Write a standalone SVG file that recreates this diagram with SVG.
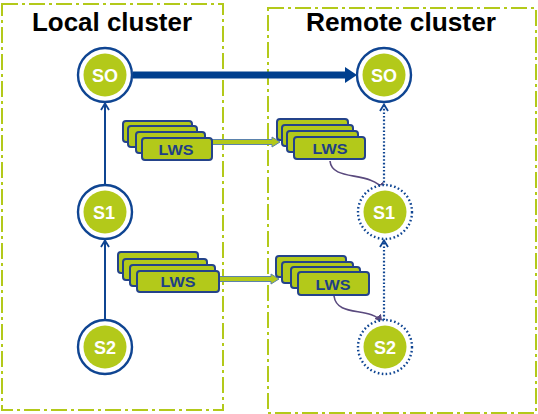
<svg xmlns="http://www.w3.org/2000/svg" width="538" height="414" viewBox="0 0 538 414">
<style>
.cl{fill:none;stroke:#b3c91a;stroke-width:2;stroke-dasharray:16 4 3 4}
.title{font-family:"Liberation Sans",Arial,sans-serif;font-weight:bold;font-size:25px;fill:#000}
.ring{fill:#fff;stroke:#0f4592;stroke-width:2.4}
.dring{fill:#fff;stroke:#0f4592;stroke-width:2.4;stroke-dasharray:1.6 2.4}
.core{fill:#b3c91a}
.nt{font-family:"Liberation Sans",Arial,sans-serif;font-weight:bold;font-size:18px;fill:#fff;text-anchor:middle}
.box{fill:#b3c91a;stroke:#24438a;stroke-width:2}
.lt{font-family:"Liberation Sans",Arial,sans-serif;font-weight:bold;font-size:15.5px;fill:#1e3f86;text-anchor:middle}
.sl{fill:none;stroke:#0f4592;stroke-width:2}
.dl{fill:none;stroke:#0f4592;stroke-width:2.2;stroke-dasharray:1.6 2}
.ch{fill:none;stroke:#0f4592;stroke-width:1.8}
.ga{fill:#b3c91a;stroke:#5b82ac;stroke-width:1}
.pc{fill:none;stroke:#5a4a7e;stroke-width:1.6}
</style>
<defs>
<marker id="pa" viewBox="0 0 10 10" refX="9" refY="5" markerWidth="5" markerHeight="5" orient="auto">
<path d="M0,0 L10,5 L0,10 z" fill="#5a4a7e"/>
</marker>
</defs>
<g id="local-cluster">
<rect class="cl" x="2" y="4" width="221" height="406"/>
<text class="title" x="32" y="31" textLength="160" lengthAdjust="spacingAndGlyphs">Local cluster</text>
</g>
<g id="remote-cluster">
<rect class="cl" x="268" y="8" width="268" height="405"/>
<text class="title" x="306" y="31" textLength="190" lengthAdjust="spacingAndGlyphs">Remote cluster</text>
</g>
<g id="connectors">
<line x1="133" y1="75" x2="346" y2="75" stroke="#003f8e" stroke-width="7"/>
<polygon points="345,67 357,75 345,83" fill="#003f8e"/>
<line class="sl" x1="105" y1="185" x2="105" y2="104"/>
<polyline class="ch" points="101,110 105,103.5 109,110"/>
<line class="sl" x1="105" y1="320" x2="105" y2="241"/>
<polyline class="ch" points="101,247 105,240.5 109,247"/>
<line class="dl" x1="384" y1="186" x2="384" y2="105"/>
<polyline class="ch" points="380,111 384,104.5 388,111"/>
<line class="dl" x1="384" y1="320" x2="384" y2="241"/>
<polyline class="ch" points="380,247 384,240.5 388,247"/>
<polygon class="ga" points="212,139.5 272,139.5 272,137 280,142 272,147 272,144.5 212,144.5"/>
<polygon class="ga" points="219,276.5 271,276.5 271,274 279,279 271,284 271,281.5 219,281.5"/>
<path class="pc" d="M330,161 C332,182 370,170 384,190" marker-end="url(#pa)"/>
<path class="pc" d="M334,296 C337,318 370,306 382,322" marker-end="url(#pa)"/>
</g>
<g id="local-s0"><circle class="ring" cx="105" cy="75" r="27"/><circle class="core" cx="105" cy="75" r="21.5"/><text class="nt" x="105" y="81.5">SO</text></g>
<g id="local-s1"><circle class="ring" cx="105" cy="212" r="27"/><circle class="core" cx="105" cy="212" r="21.5"/><text class="nt" x="104" y="219">S1</text></g>
<g id="local-s2"><circle class="ring" cx="105" cy="347" r="27"/><circle class="core" cx="105" cy="347" r="21.5"/><text class="nt" x="105" y="354">S2</text></g>
<g id="remote-s0"><circle class="ring" cx="384" cy="75" r="27"/><circle class="core" cx="384" cy="75" r="21.5"/><text class="nt" x="384" y="81.5">SO</text></g>
<g id="remote-s1"><circle class="dring" cx="385" cy="212" r="27"/><circle class="core" cx="385" cy="212" r="21.5"/><text class="nt" x="384" y="219">S1</text></g>
<g id="remote-s2"><circle class="dring" cx="385" cy="347" r="27"/><circle class="core" cx="385" cy="347" r="21.5"/><text class="nt" x="385" y="354">S2</text></g>
<g id="local-lws-1">
<rect class="box" x="123" y="121" width="69" height="21" rx="3"/>
<rect class="box" x="128" y="126" width="69" height="21" rx="3"/>
<rect class="box" x="136" y="132" width="69" height="21" rx="3"/>
<rect class="box" x="142" y="138" width="70" height="22" rx="3"/>
<text class="lt" x="176" y="155" textLength="35" lengthAdjust="spacingAndGlyphs">LWS</text>
</g>
<g id="local-lws-2">
<rect class="box" x="118" y="252" width="80" height="21" rx="3"/>
<rect class="box" x="123" y="259" width="84" height="21" rx="3"/>
<rect class="box" x="130" y="265" width="85" height="21" rx="3"/>
<rect class="box" x="137" y="271" width="82" height="21" rx="3"/>
<text class="lt" x="178" y="287" textLength="35" lengthAdjust="spacingAndGlyphs">LWS</text>
</g>
<g id="remote-lws-1">
<rect class="box" x="277" y="119" width="71" height="21" rx="3"/>
<rect class="box" x="282" y="125" width="71" height="21" rx="3"/>
<rect class="box" x="287" y="131" width="71" height="21" rx="3"/>
<rect class="box" x="294" y="137" width="71" height="22" rx="3"/>
<text class="lt" x="330" y="154" textLength="35" lengthAdjust="spacingAndGlyphs">LWS</text>
</g>
<g id="remote-lws-2">
<rect class="box" x="276" y="256" width="70" height="21" rx="3"/>
<rect class="box" x="282" y="262" width="71" height="21" rx="3"/>
<rect class="box" x="291" y="267" width="69" height="21" rx="3"/>
<rect class="box" x="298" y="272" width="71" height="23" rx="3"/>
<text class="lt" x="333" y="290" textLength="35" lengthAdjust="spacingAndGlyphs">LWS</text>
</g>
</svg>
